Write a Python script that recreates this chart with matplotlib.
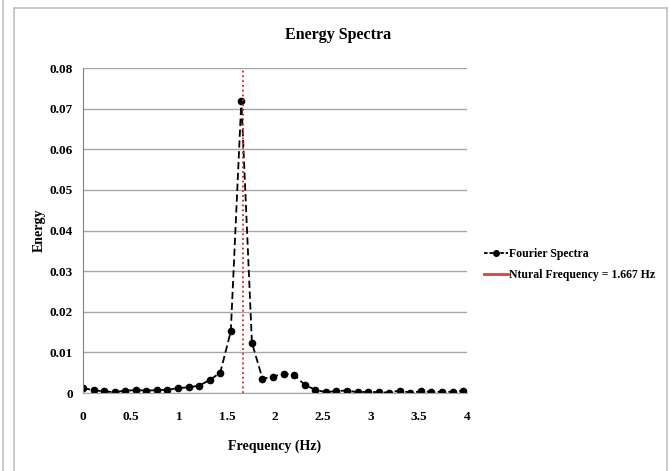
import numpy as np
import matplotlib
matplotlib.use("Agg")
import matplotlib.pyplot as plt
from matplotlib.lines import Line2D

# data
freq = [0.00, 0.11, 0.22, 0.33, 0.44, 0.55, 0.66, 0.77, 0.88, 0.99,
        1.10, 1.21, 1.32, 1.43, 1.54, 1.65, 1.76, 1.87, 1.98, 2.09,
        2.20, 2.31, 2.42, 2.53, 2.64, 2.75, 2.86, 2.97, 3.08, 3.19,
        3.30, 3.41, 3.52, 3.63, 3.74, 3.85, 3.96]
energy = [0.0012, 0.0007, 0.0004, 0.0002, 0.0006, 0.0007, 0.0006, 0.0007, 0.0008, 0.0012,
          0.0014, 0.0018, 0.0032, 0.0050, 0.0152, 0.0720, 0.0124, 0.0035, 0.0040, 0.0048,
          0.0045, 0.0020, 0.0008, 0.0002, 0.0005, 0.0006, 0.0002, 0.0003, 0.0002, 0.0001,
          0.0006, 0.0001, 0.0004, 0.0003, 0.0003, 0.0003, 0.0006]
natural_freq = 1.667

xticks = [0, 0.5, 1, 1.5, 2, 2.5, 3, 3.5, 4]
xticklabels = ["0", "0.5", "1", "1.5", "2", "2.5", "3", "3.5", "4"]
yticks = [0, 0.01, 0.02, 0.03, 0.04, 0.05, 0.06, 0.07, 0.08]
yticklabels = ["0", "0.01", "0.02", "0.03", "0.04", "0.05", "0.06", "0.07", "0.08"]

plt.rcParams['font.family'] = ['Liberation Serif', 'DejaVu Serif']
plt.rcParams['font.weight'] = 'bold'

fig = plt.figure(figsize=(6.69, 4.71), dpi=100)
ax = fig.add_axes([0.124, 0.1656, 0.574, 0.69])

ax.plot(freq, energy, color='black', linestyle='--', linewidth=1.3,
        marker='o', markersize=4.5, dashes=(4, 2))
ax.axvline(natural_freq, color='#e02020', linestyle=':', linewidth=1.3)

ax.set_xlim(0, 4)
ax.set_ylim(0, 0.08)
ax.set_xticks(xticks)
ax.set_xticklabels(xticklabels, fontsize=9.5, fontweight='bold')
ax.set_yticks(yticks)
ax.set_yticklabels(yticklabels, fontsize=9.5, fontweight='bold')
ax.tick_params(axis='x', length=0, pad=13)
ax.tick_params(axis='y', length=0, pad=7)
ax.grid(axis='y', color='#a6a6a6', linewidth=1)
ax.set_axisbelow(True)
for s in ['top', 'right']:
    ax.spines[s].set_visible(False)
ax.spines['left'].set_color('#7f7f7f')
ax.spines['bottom'].set_color('#a6a6a6')

ax.set_xlabel("Frequency (Hz)", fontsize=10, fontweight='bold', labelpad=12)
ax.set_ylabel("Energy", fontsize=10, fontweight='bold', labelpad=3)
fig.text(0.505, 0.925, "Energy Spectra", ha='center', va='center',
         fontsize=11.5, fontweight='bold')

handles = [Line2D([], [], color='black', linestyle='--', linewidth=1.3,
                  marker='o', markersize=4, dashes=(2, 1)),
           Line2D([], [], color='#c0504d', linewidth=2)]
fig.legend(handles, ["Fourier Spectra", "Ntural Frequency = 1.667 Hz"],
           loc='center left', bbox_to_anchor=(0.724, 0.438), frameon=False,
           fontsize=8.5, handlelength=2.0, handletextpad=0.1, labelspacing=0.8,
           borderaxespad=0, borderpad=0)

# chart area border
fig.add_artist(Line2D([14 / 669, 14 / 669], [0, 1 - 8 / 471], color='#c0c0c0', linewidth=1.2))
fig.add_artist(Line2D([14 / 669, 667 / 669], [1 - 8 / 471, 1 - 8 / 471], color='#c0c0c0', linewidth=1.2))
fig.add_artist(Line2D([667 / 669, 667 / 669], [0, 1 - 8 / 471], color='#c0c0c0', linewidth=1.2))
fig.add_artist(Line2D([3 / 669, 3 / 669], [0, 1], color='#c0c0c0', linewidth=1.2))

fig.savefig("out.png", dpi=100)
